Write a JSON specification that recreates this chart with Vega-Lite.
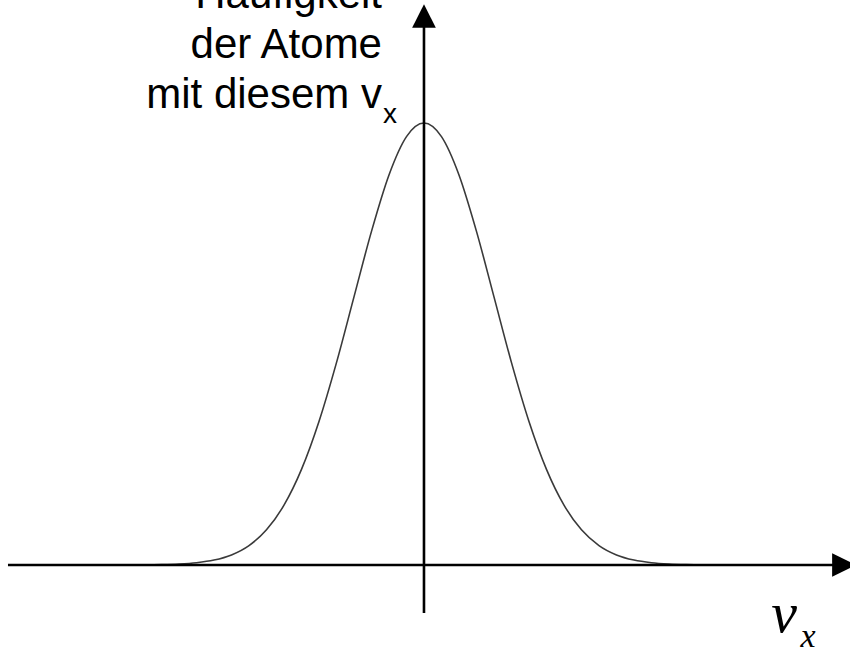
{
  "$schema": "https://vega.github.io/schema/vega-lite/v6.json",
  "width": 850,
  "height": 648,
  "autosize": {"type": "none"},
  "padding": 0,
  "background": "white",
  "config": {"view": {"stroke": null}},
  "datasets": {
    "curve": [
      {"v": -5.67, "f": 0},
      {"v": -5.0, "f": 0},
      {"v": -4.5, "f": 0.00004},
      {"v": -4.0, "f": 0.00034},
      {"v": -3.75, "f": 0.00088},
      {"v": -3.5, "f": 0.00219},
      {"v": -3.25, "f": 0.00508},
      {"v": -3.0, "f": 0.01111},
      {"v": -2.75, "f": 0.02279},
      {"v": -2.5, "f": 0.04394},
      {"v": -2.25, "f": 0.07956},
      {"v": -2.0, "f": 0.13534},
      {"v": -1.75, "f": 0.21627},
      {"v": -1.5, "f": 0.32465},
      {"v": -1.25, "f": 0.45783},
      {"v": -1.0, "f": 0.60653},
      {"v": -0.75, "f": 0.75484},
      {"v": -0.5, "f": 0.8825},
      {"v": -0.25, "f": 0.96923},
      {"v": 0, "f": 1},
      {"v": 0.25, "f": 0.96923},
      {"v": 0.5, "f": 0.8825},
      {"v": 0.75, "f": 0.75484},
      {"v": 1.0, "f": 0.60653},
      {"v": 1.25, "f": 0.45783},
      {"v": 1.5, "f": 0.32465},
      {"v": 1.75, "f": 0.21627},
      {"v": 2.0, "f": 0.13534},
      {"v": 2.25, "f": 0.07956},
      {"v": 2.5, "f": 0.04394},
      {"v": 2.75, "f": 0.02279},
      {"v": 3.0, "f": 0.01111},
      {"v": 3.25, "f": 0.00508},
      {"v": 3.5, "f": 0.00219},
      {"v": 3.75, "f": 0.00088},
      {"v": 4.0, "f": 0.00034},
      {"v": 4.5, "f": 0.00004},
      {"v": 5.0, "f": 0},
      {"v": 5.66, "f": 0}
    ]
  },
  "resolve": {"scale": {"x": "shared", "y": "shared"}},
  "layer": [
    {
      "data": {"name": "curve"},
      "mark": {"type": "line", "color": "#3a3a3a", "strokeWidth": 1.6, "interpolate": "monotone"},
      "encoding": {
        "x": {"field": "v", "type": "quantitative", "scale": {"domain": [-6.057, 6.086], "nice": false, "zero": false}, "axis": null},
        "y": {"field": "f", "type": "quantitative", "scale": {"domain": [-0.1878, 1.2783], "nice": false, "zero": false}, "axis": null}
      }
    },
    {
      "data": {"values": [{}]},
      "mark": {"type": "rule", "color": "black", "strokeWidth": 2.6},
      "encoding": {
        "x": {"datum": -5.943, "type": "quantitative"},
        "x2": {"datum": 5.93},
        "y": {"datum": 0, "type": "quantitative"}
      }
    },
    {
      "data": {"values": [{}]},
      "mark": {"type": "rule", "color": "black", "strokeWidth": 2.6},
      "encoding": {
        "x": {"datum": 0, "type": "quantitative"},
        "y": {"datum": -0.1086, "type": "quantitative"},
        "y2": {"datum": 1.225}
      }
    },
    {
      "data": {"values": [{}]},
      "mark": {"type": "point", "shape": "M0,-1L1,1L-1,1Z", "size": 560, "filled": true, "color": "black", "opacity": 1, "strokeWidth": 0},
      "encoding": {
        "x": {"datum": 0, "type": "quantitative"},
        "y": {"datum": 1.2421, "type": "quantitative"}
      }
    },
    {
      "data": {"values": [{}]},
      "mark": {"type": "point", "shape": "M1,0L-1,-1L-1,1Z", "size": 560, "filled": true, "color": "black", "opacity": 1, "strokeWidth": 0},
      "encoding": {
        "x": {"datum": 6.0, "type": "quantitative"},
        "y": {"datum": 0, "type": "quantitative"}
      }
    },
    {
      "data": {"values": [{}]},
      "mark": {"type": "text", "text": ["Häufigkeit", "der Atome", "mit diesem v"], "font": "Liberation Sans", "fontSize": 42, "lineHeight": 50, "align": "right", "baseline": "alphabetic", "color": "black"},
      "encoding": {
        "x": {"datum": -0.6, "type": "quantitative"},
        "y": {"datum": 1.2602, "type": "quantitative"}
      }
    },
    {
      "data": {"values": [{}]},
      "mark": {"type": "text", "text": "x", "font": "Liberation Sans", "fontSize": 28, "align": "left", "baseline": "alphabetic", "color": "black"},
      "encoding": {
        "x": {"datum": -0.586, "type": "quantitative"},
        "y": {"datum": 1.0, "type": "quantitative"}
      }
    },
    {
      "data": {"values": [{}]},
      "mark": {"type": "text", "text": "v", "font": "Liberation Serif", "fontStyle": "italic", "fontSize": 58, "align": "left", "baseline": "alphabetic", "color": "black"},
      "encoding": {
        "x": {"datum": 4.96, "type": "quantitative"},
        "y": {"datum": -0.1516, "type": "quantitative"}
      }
    },
    {
      "data": {"values": [{}]},
      "mark": {"type": "text", "text": "x", "font": "Liberation Serif", "fontStyle": "italic", "fontSize": 34, "align": "left", "baseline": "alphabetic", "color": "black"},
      "encoding": {
        "x": {"datum": 5.38, "type": "quantitative"},
        "y": {"datum": -0.1855, "type": "quantitative"}
      }
    }
  ]
}
